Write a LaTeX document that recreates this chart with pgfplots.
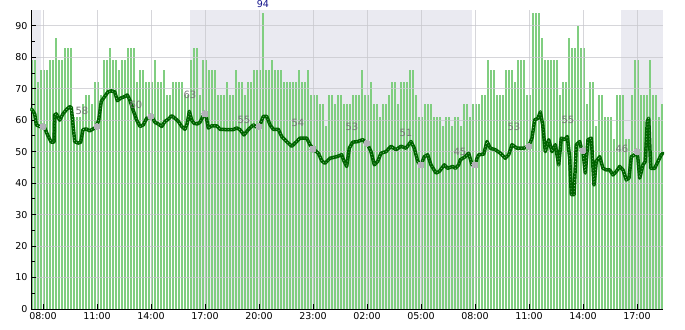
\documentclass[border=0pt]{standalone}
\usepackage{pgfplots}
\pgfplotsset{compat=1.18}
\usepackage{pgfplotstable}
\usepackage{fontspec}
\setmainfont{DejaVu Sans}
\definecolor{barg}{RGB}{128,206,128}
\definecolor{shadec}{RGB}{234,234,241}
\definecolor{gridc}{RGB}{200,200,205}
\definecolor{lineg}{RGB}{0,100,0}
\definecolor{dotg}{RGB}{140,195,140}
\definecolor{dotc}{RGB}{178,178,184}
\definecolor{labc}{RGB}{118,118,118}
\definecolor{maxc}{RGB}{20,20,140}
\pgfplotsset{layers/mylayers/.define layer set={axis background,bars,axis grid,axis ticks,main,axis lines,axis tick labels,axis descriptions,axis foreground}{}}

\pgfplotstableread{
k v
0 79
1 79
2 72
3 76
4 76
5 76
6 79
7 79
8 86
9 79
10 79
11 83
12 83
13 83
14 61
15 61
16 61
17 65
18 68
19 68
20 65
21 72
22 72
23 68
24 79
25 79
26 83
27 79
28 79
29 76
30 79
31 79
32 83
33 83
34 83
35 72
36 76
37 76
38 72
39 72
40 72
41 79
42 72
43 72
44 76
45 68
46 68
47 72
48 72
49 72
50 72
51 68
52 68
53 79
54 83
55 83
56 68
57 79
58 79
59 76
60 76
61 76
62 68
63 68
64 68
65 72
66 68
67 68
68 76
69 72
70 72
71 68
72 72
73 72
74 76
75 76
76 76
77 94
78 76
79 76
80 79
81 76
82 76
83 76
84 72
85 72
86 72
87 72
88 72
89 76
90 72
91 72
92 76
93 68
94 68
95 68
96 65
97 65
98 58
99 68
100 68
101 65
102 68
103 68
104 65
105 65
106 65
107 68
108 68
109 68
110 76
111 68
112 68
113 72
114 65
115 65
116 61
117 65
118 65
119 68
120 72
121 72
122 65
123 72
124 72
125 72
126 76
127 76
128 68
129 61
130 61
131 65
132 65
133 65
134 61
135 61
136 61
137 58
138 61
139 61
140 58
141 61
142 61
143 58
144 65
145 65
146 61
147 65
148 65
149 65
150 68
151 68
152 79
153 76
154 76
155 68
156 68
157 68
158 76
159 76
160 76
161 72
162 79
163 79
164 79
165 68
166 68
167 94
168 94
169 94
170 86
171 79
172 79
173 79
174 79
175 79
176 68
177 72
178 72
179 86
180 83
181 83
182 90
183 83
184 83
185 65
186 72
187 72
188 58
189 68
190 68
191 61
192 61
193 61
194 54
195 68
196 68
197 68
198 54
199 54
200 68
201 79
202 79
203 68
204 68
205 68
206 79
207 68
208 68
209 61
210 65
}\bardata

\pgfplotstableread{
x y
0.2 63.5
0.57 63
1.23 62
1.77 58.5
2.9 58
4.57 57.5
5.67 55
6.77 53
7.67 53
7.9 61.7
8.43 62
9.57 60
10.67 62
11.77 63.3
12.9 64.3
13.43 64
14 58.5
14.57 53.2
15.67 52.7
16.57 53
17.33 57
18.43 57.2
19.57 56.6
20.67 57.2
21.77 57.9
22.57 60
23.43 66
24.57 67.5
25.67 69
26.77 69.3
27.9 69
28.77 66.2
29.9 67
31.23 67.5
32.1 68
32.9 66.5
34 63.3
35.23 60
36.33 58
37.43 58.5
38.57 60.6
40.23 61.2
41.33 59.3
42.43 58.8
43.57 58
44.67 59.6
45.77 60.3
46.9 61.4
48 60.6
49.1 59.6
50.23 58
51.33 57.1
52.1 59
52.77 62.8
53.57 60
54.33 59
55.43 58.8
56.33 59.3
57.43 61.4
58.23 62
59.1 57.5
60.23 58.2
61.9 58.2
63 57.1
65.23 57
67.43 57
68.57 57.5
69.67 57
71 55.3
72.43 57
74.1 58.5
75.23 57.8
76.1 58
77.43 61.2
78.57 61.2
79.67 58.5
80.77 57.1
82.43 57.1
83.57 54.8
85.23 53.2
86.9 51.7
88.57 53.2
89.67 54.3
91.9 54.3
93 52.2
94.1 50.8
95.77 49.5
97 47
98 46.3
99.67 47.9
101.9 48.4
103.57 49
104.33 47
105.23 45.3
106.1 51.1
107.23 53
108.9 53.2
110.57 53.8
112 52.7
113.33 50
114.43 45.8
115.57 46.9
116.67 49.5
118.33 50
120 51.7
121.67 50.6
123.33 51.7
125 51.1
126.67 53.2
127.77 51.1
128.9 46.9
130 45.8
131.1 48.4
132.23 49
133.33 45.8
135 43.2
136.1 43.7
137.77 45.8
138.9 44.7
140.57 45.3
141.43 44.7
142.57 45.8
143.1 47.4
144.77 48.4
145.9 49.5
147 45.8
148.1 45.8
148.67 47.9
149.23 49
150.9 49.2
152 53.2
153.1 51.1
154.77 50.6
156.43 49.5
158.1 47.9
159.23 49
160.33 52.2
162 51.1
164.23 51.1
165.9 51.7
167 54.3
167.9 60.1
169 60.6
169.77 62.6
170.57 58.5
171.43 50
172.57 53.8
173.67 50
174.77 52.2
175.9 45.8
176.77 54.3
177.9 53.8
178.77 54.8
179.57 47.9
180.1 36.3
181 36.3
181.77 52.2
182.9 53.2
183.43 51.1
184 50
184.77 43.2
185.67 53.8
186.77 54.3
187.67 39.4
188.43 46.9
189.57 48.4
190.67 44.7
191.77 44.2
192.9 44.2
194 42.6
195.1 43.7
196.23 45.3
197.33 44.2
198.43 41
199.33 41.6
200.1 48.4
201.23 49
202.1 50
202.9 41.6
204 45.8
204.77 46.9
205.43 59.6
205.9 60.6
206.57 44.7
207.9 44.7
209 46.9
210.1 49
210.6 49.5
}\linedata

\pgfplotstableread{
x y
4 58
22 58
40 61.2
58 62
76 58
94 50.8
112 52.7
130 45.8
148 45.8
166 51.7
184 50.3
202 50
}\dotdata

\pgfplotstableread{
x y lab
17 63 58
35 65 60
53 68 63
71 60 55
89 59 54
107 58 53
125 56 51
143 50 45
161 58 53
179 60 55
197 51 46
}\labdata

\begin{document}
\begin{tikzpicture}
\begin{axis}[
  name=ax,
  set layers=mylayers,
  scale only axis,
  width=632pt, height=299pt,
  xmin=0, xmax=210.67, ymin=0, ymax=95,
  axis x line=bottom, axis y line=left,
  axis line style={-, black, line width=0.9pt},
  xtick={4,22,...,202},
  xticklabels={08:00,11:00,14:00,17:00,20:00,23:00,02:00,05:00,08:00,11:00,14:00,17:00},
  ytick={0,10,...,90},
  minor ytick={5,15,...,85},
  tick align=inside,
  major tick length=5pt, minor tick length=4pt,
  tick style={black, line width=0.8pt},
  grid=major,
  major grid style={gridc, line width=0.9pt, opacity=0.75},
  tick label style={font=\fontsize{9.5}{11}\selectfont},
  /pgf/number format/assume math mode=true,
  clip=false,
]
\addplot[on layer=axis background, fill=shadec, draw=none] coordinates {(0,95) (3.33,95)} \closedcycle;
\addplot[on layer=axis background, fill=shadec, draw=none] coordinates {(53,95) (147,95)} \closedcycle;
\addplot[on layer=axis background, fill=shadec, draw=none] coordinates {(196.7,95) (210.67,95)} \closedcycle;
\addplot[on layer=bars, ycomb, draw=barg, line width=2pt, mark=none] table[x expr=\thisrow{k}+0.3, y=v] {\bardata};
\addplot[lineg, line width=3.5pt, line join=round, line cap=round, mark=none] table[x=x, y=y] {\linedata};
\addplot[dotg, line width=0.7pt, dash pattern=on 0.7pt off 2.3pt, mark=none] table[x=x, y=y] {\linedata};
\addplot[dotc, only marks, mark=*, mark size=3pt, mark options={draw=dotc, fill=dotc, line width=0pt}] table[x=x, y=y] {\dotdata};
\addplot[draw=none, mark=none, nodes near coords, point meta=explicit symbolic,
  every node near coord/.append style={anchor=center, text=labc, font=\fontsize{10}{12}\selectfont}]
  table[x=x, y=y, meta=lab] {\labdata};
\addplot[draw=none, mark=none, nodes near coords, point meta=explicit symbolic,
  every node near coord/.append style={anchor=center, text=maxc, font=\fontsize{9.5}{11}\selectfont}]
  coordinates {(77.3,97)[94]};
\end{axis}
\pgfresetboundingbox
\path ([xshift=-31pt,yshift=-21pt]ax.south west) rectangle ([xshift=22pt,yshift=10pt]ax.north east);
\end{tikzpicture}
\end{document}
